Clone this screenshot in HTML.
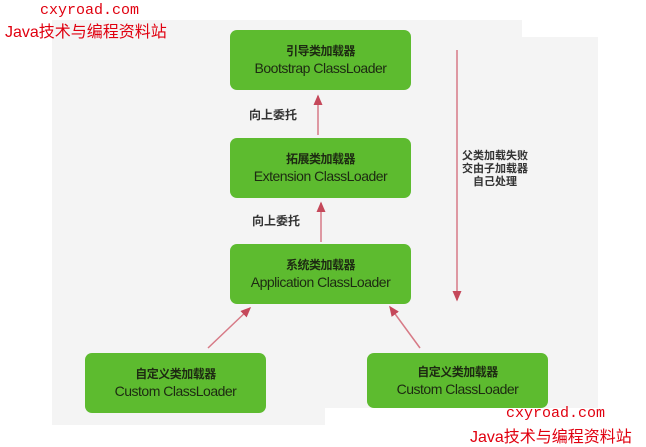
<!DOCTYPE html>
<html><head><meta charset="utf-8"><style>
body{margin:0;width:646px;height:446px;background:#fff;position:relative;overflow:hidden;font-family:"Liberation Sans","Noto Sans CJK SC",sans-serif}
.bg{position:absolute;background:#f4f4f4}
.box{position:absolute;background:#5dbb2f;border-radius:7px;color:#1d2a12;text-align:center;font-size:14px;line-height:17px;box-sizing:border-box;display:flex;flex-direction:column;justify-content:center;letter-spacing:-0.5px}
.box span{font-size:12px;font-weight:bold}
.t{position:absolute;color:#333;font-size:12px;font-weight:bold}
.wm{position:absolute;color:#e0000f;font-family:"Liberation Mono","Noto Sans CJK SC",monospace;font-size:15px;white-space:nowrap}
</style></head><body>
<div class="bg" style="left:52px;top:20px;width:470px;height:405px"></div>
<div class="bg" style="left:520px;top:37px;width:78px;height:388px"></div>
<div class="box" style="left:230px;top:30px;width:181px;height:60px"><span>引导类加载器</span>Bootstrap ClassLoader</div>
<div class="box" style="left:230px;top:138px;width:181px;height:60px"><span>拓展类加载器</span>Extension ClassLoader</div>
<div class="box" style="left:230px;top:244px;width:181px;height:60px"><span>系统类加载器</span>Application ClassLoader</div>
<div class="box" style="left:85px;top:353px;width:181px;height:60px"><span>自定义类加载器</span>Custom ClassLoader</div>
<div class="box" style="left:367px;top:353px;width:181px;height:55px"><span>自定义类加载器</span>Custom ClassLoader</div>
<svg width="646" height="446" style="position:absolute;left:0;top:0">
<defs><marker id="a" markerWidth="8" markerHeight="8" refX="6" refY="4" orient="auto"><path d="M0,1 L7,4 L0,7z" fill="#c5485a"/></marker></defs>
<g stroke="#d77a86" stroke-width="1.5" fill="none" marker-end="url(#a)">
<line x1="318" y1="135" x2="318" y2="96"/>
<line x1="321" y1="242" x2="321" y2="203"/>
<line x1="457" y1="50" x2="457" y2="300"/>
<line x1="208" y1="348" x2="250" y2="308"/>
<line x1="420" y1="348" x2="390" y2="307"/>
</g></svg>
<div class="t" style="left:249px;top:106px">向上委托</div>
<div class="t" style="left:252px;top:212px">向上委托</div>
<div class="t" style="left:462px;top:150px;font-size:11px;line-height:13px;text-align:center">父类加载失败<br>交由子加载器<br>自己处理</div>
<div style="position:absolute;left:325px;top:408px;width:321px;height:38px;background:#fff"></div>
<div class="wm" style="left:40px;top:2px">cxyroad.com</div>
<div class="wm" style="left:5px;top:18px;font-family:'Liberation Sans','Noto Sans CJK SC',sans-serif;font-size:16px">Java技术与编程资料站</div>
<div class="wm" style="left:506px;top:405px">cxyroad.com</div>
<div class="wm" style="left:470px;top:423px;font-family:'Liberation Sans','Noto Sans CJK SC',sans-serif;font-size:16px">Java技术与编程资料站</div>
</body></html>
